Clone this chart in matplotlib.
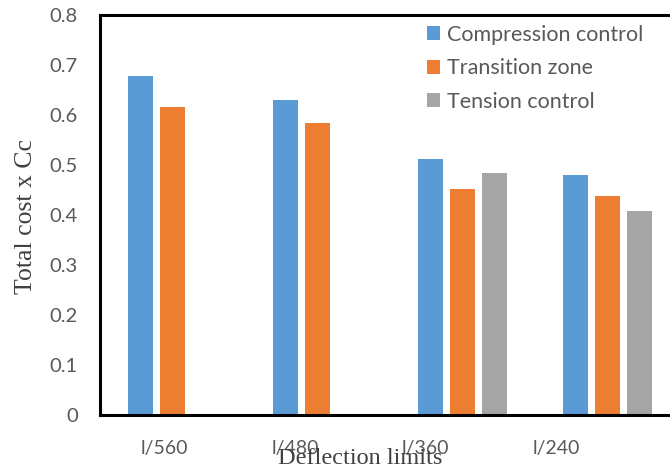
import matplotlib
matplotlib.use("Agg")
import matplotlib.pyplot as plt
import numpy as np

categories = ["l/560", "l/480", "l/360", "l/240"]
compression = [0.677, 0.630, 0.512, 0.480]
transition = [0.616, 0.585, 0.452, 0.437]
tension = [0.0, 0.0, 0.483, 0.409]
series_names = ["Compression control", "Transition zone", "Tension control"]
colors = ["#5B9BD5", "#ED7D31", "#A5A5A5"]

W, H = 670, 469
fig = plt.figure(figsize=(W / 100, H / 100), dpi=100)
ax = fig.add_axes([100 / W, 54 / H, 580 / W, 400 / H])

x = np.arange(len(categories))
slot = 0.2226
bw = 0.173
for k, vals in enumerate([compression, transition, tension]):
    ax.bar(x + (k - 1) * slot, vals, width=bw, color=colors[k], label=series_names[k])

ax.set_xlim(-0.5, 3.5)
ax.set_ylim(0, 0.8)
ax.set_yticks(np.arange(0, 0.81, 0.1))
ax.set_yticklabels(["0"] + [f"{v:.1f}" for v in np.arange(0.1, 0.81, 0.1)])
tick_font = "Lato"
txt_col = "#595959"
for lab in ax.get_yticklabels():
    lab.set_fontfamily(tick_font)
    lab.set_fontsize(14.5)
    lab.set_color(txt_col)
ax.tick_params(axis="y", length=0, pad=16)
ax.tick_params(axis="x", length=0, pad=18)
# tick labels placed as in the reference (shifted left relative to groups)
ax.set_xticks(x * 0.9 - 0.055)
ax.set_xticklabels(categories, fontfamily=tick_font, fontsize=14, color=txt_col)

for s in ["left", "bottom", "top", "right"]:
    ax.spines[s].set_linewidth(2.2)
    ax.spines[s].set_color("black")

fig.text(26 / W, 1 - 217 / H, "Total cost x Cc", rotation=90, ha="center", va="center",
         fontfamily="Liberation Serif", fontsize=18.5, color="#404040")
fig.text(360 / W, 1 - 458 / H, "Deflection limits", ha="center", va="center",
         fontfamily="Liberation Serif", fontsize=17.5, color="#404040")

leg = ax.legend(loc="upper left", bbox_to_anchor=(427 / W, 1 - 25 / H),
                bbox_transform=fig.transFigure, frameon=False, borderpad=0,
                borderaxespad=0, handlelength=0.62, handleheight=0.62,
                handletextpad=0.3, labelspacing=0.62,
                prop={"family": tick_font, "size": 15.5})
for t in leg.get_texts():
    t.set_color(txt_col)

fig.savefig("out.png", dpi=100)
